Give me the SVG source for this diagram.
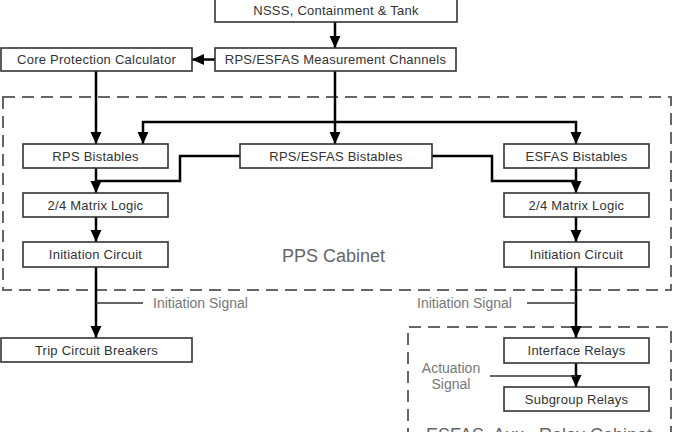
<svg xmlns="http://www.w3.org/2000/svg" width="674" height="432" viewBox="0 0 674 432">
<style>
.box{fill:#fff;stroke:#333;stroke-width:1.6}
.bt{font-family:"Liberation Sans",Arial,sans-serif;font-size:13px;letter-spacing:0.25px;fill:#333;text-anchor:middle}
.lbl{font-family:"Liberation Sans",Arial,sans-serif;font-size:14px;fill:#777}
.cab{font-family:"Liberation Sans",Arial,sans-serif;font-size:18px;fill:#666}
.dash{fill:none;stroke:#666;stroke-width:2;stroke-dasharray:12,7}
.c{fill:none;stroke:#000;stroke-width:2.5}
.ca{fill:none;stroke:#000;stroke-width:2.5;marker-end:url(#ah)}
.thin{fill:none;stroke:#333;stroke-width:1.5}
</style>
<defs>
<marker id="ah" markerUnits="userSpaceOnUse" markerWidth="12" markerHeight="12" viewBox="0 0 12 12" refX="12" refY="6" orient="auto">
<path d="M0,0.5 L12,6 L0,11.5 Z" fill="#000"/>
</marker>
</defs>
<g id="cabinets">
<rect class="dash" x="3" y="97" width="668" height="193"/>
<text class="cab" x="282" y="262">PPS Cabinet</text>
<path class="dash" d="M408,440 V327 H671 V440"/>
<text class="cab" x="426" y="441" xml:space="preserve">ESFAS  Aux.  Relay Cabinet</text>
</g>
<g id="connectors">
<path class="ca" d="M335,22 V48"/>
<path class="ca" d="M215,59.5 H192"/>
<path class="ca" d="M335,71 V144"/>
<path class="ca" d="M335,122 H143 V144"/>
<path class="ca" d="M335,122 H576 V144"/>
<path class="ca" d="M96,71 V144"/>
<path class="ca" d="M96,168 V193"/>
<path class="c" d="M240,156 H180 V181 H96"/>
<path class="ca" d="M96,217 V242"/>
<path class="ca" d="M96,267 V338"/>
<path class="thin" d="M96,303 H143"/>
<path class="ca" d="M576,168 V193"/>
<path class="c" d="M432,156 H492 V181 H576"/>
<path class="ca" d="M576,217 V242"/>
<path class="ca" d="M576,267 V338"/>
<path class="thin" d="M527,303 H576"/>
<path class="ca" d="M576,363 V387"/>
<path class="thin" d="M490,376 H576"/>
</g>
<g id="labels">
<text class="lbl" x="153" y="308">Initiation Signal</text>
<text class="lbl" x="417" y="308">Initiation Signal</text>
<text class="lbl" x="451" y="373" text-anchor="middle">Actuation</text>
<text class="lbl" x="451" y="389" text-anchor="middle">Signal</text>
</g>
<g id="nsss"><rect class="box" x="215" y="-2" width="242" height="24"/><text class="bt" x="336" y="15">NSSS, Containment &amp; Tank</text></g>
<g id="meas"><rect class="box" x="215" y="48" width="241" height="23"/><text class="bt" x="335.5" y="64">RPS/ESFAS Measurement Channels</text></g>
<g id="cpc"><rect class="box" x="1" y="48" width="191" height="23"/><text class="bt" x="96.5" y="64">Core Protection Calculator</text></g>
<g id="rps-bist"><rect class="box" x="23" y="144" width="145" height="24"/><text class="bt" x="95.5" y="160.5">RPS Bistables</text></g>
<g id="rpsesfas-bist"><rect class="box" x="240" y="144" width="192" height="24"/><text class="bt" x="336" y="160.5">RPS/ESFAS Bistables</text></g>
<g id="esfas-bist"><rect class="box" x="504" y="144" width="145" height="24"/><text class="bt" x="576.5" y="160.5">ESFAS Bistables</text></g>
<g id="matrix-l"><rect class="box" x="23" y="193" width="145" height="24"/><text class="bt" x="95.5" y="209.5">2/4 Matrix Logic</text></g>
<g id="matrix-r"><rect class="box" x="504" y="193" width="145" height="24"/><text class="bt" x="576.5" y="209.5">2/4 Matrix Logic</text></g>
<g id="init-l"><rect class="box" x="23" y="242" width="145" height="25"/><text class="bt" x="95.5" y="259">Initiation Circuit</text></g>
<g id="init-r"><rect class="box" x="504" y="242" width="145" height="25"/><text class="bt" x="576.5" y="259">Initiation Circuit</text></g>
<g id="trip"><rect class="box" x="1" y="338" width="191" height="24"/><text class="bt" x="96.5" y="354.5">Trip Circuit Breakers</text></g>
<g id="interface"><rect class="box" x="504" y="338" width="145" height="25"/><text class="bt" x="576.5" y="355">Interface Relays</text></g>
<g id="subgroup"><rect class="box" x="504" y="387" width="145" height="24"/><text class="bt" x="576.5" y="403.5">Subgroup Relays</text></g>
</svg>
